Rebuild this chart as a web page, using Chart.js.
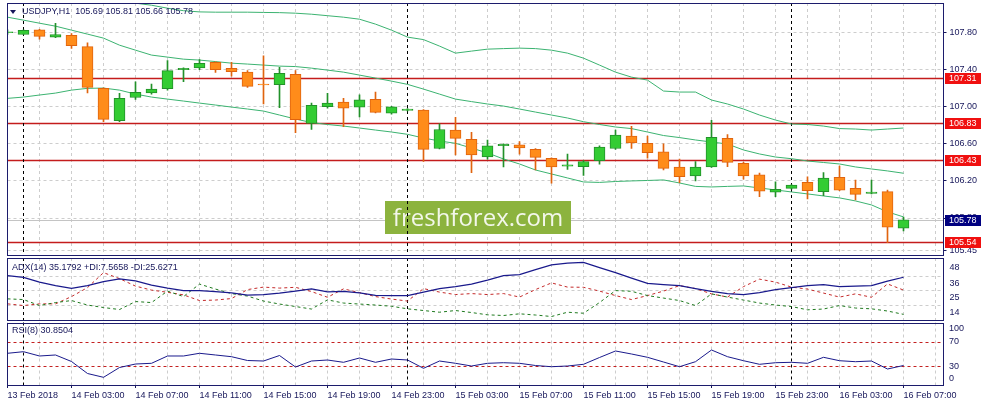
<!DOCTYPE html>
<html>
<head>
<meta charset="utf-8">
<script src="https://cdn.jsdelivr.net/npm/chart.js@4.4.1/dist/chart.umd.min.js"></script>
<style>
  html, body { margin: 0; padding: 0; background: #fff; }
  #wrap { position: relative; width: 981px; height: 405px; overflow: hidden; background: #fff; }
  #wrap canvas { position: absolute; left: 0; }
</style>
</head>
<body>
<div id="wrap">
  <canvas id="priceChart" width="981" height="257" style="top:0px"></canvas>
  <canvas id="adxChart" width="981" height="64" style="top:257px"></canvas>
  <canvas id="rsiChart" width="981" height="84" style="top:321px"></canvas>
</div>
<script>
// USDJPY H1, 13 Feb 23:00 .. 16 Feb 07:00 (one entry per bar)
const open = [107.80,107.78,107.83,107.75,107.77,107.65,107.20,106.85,107.10,107.15,107.195,107.40,107.42,107.48,107.415,107.375,107.245,107.24,107.35,106.82,107.00,107.05,106.995,107.08,106.93,106.96,106.965,106.55,106.75,106.65,106.46,106.58,106.59,106.54,106.445,106.36,106.355,106.42,106.55,106.685,106.605,106.515,106.35,106.255,106.35,106.66,106.39,106.265,106.08,106.12,106.185,106.085,106.24,106.12,106.065,106.085,105.69];
const high = [107.83,107.83,107.835,107.90,107.79,107.69,107.205,107.145,107.27,107.245,107.50,107.42,107.51,107.485,107.48,107.39,107.55,107.425,107.39,107.04,107.145,107.09,107.13,107.16,107.005,106.98,106.97,106.815,106.885,106.725,106.64,106.60,106.625,106.55,106.45,106.49,106.42,106.58,106.75,106.79,106.685,106.60,106.435,106.41,106.855,106.70,106.40,106.285,106.19,106.16,106.245,106.29,106.36,106.21,106.21,106.10,105.81];
const low = [107.78,107.78,107.73,107.745,107.63,107.15,106.84,106.84,107.08,107.135,107.18,107.27,107.40,107.37,107.33,107.21,107.03,106.99,106.72,106.755,106.985,106.785,106.89,106.935,106.92,106.955,106.41,106.545,106.48,106.29,106.435,106.35,106.49,106.32,106.175,106.325,106.26,106.38,106.54,106.55,106.445,106.32,106.18,106.20,106.345,106.355,106.22,106.03,106.03,106.11,106.005,106.04,106.095,105.995,106.06,105.535,105.66];
const close = [107.81,107.825,107.76,107.78,107.66,107.21,106.865,107.09,107.155,107.19,107.39,107.415,107.47,107.40,107.38,107.22,107.235,107.36,106.86,107.015,107.04,106.985,107.075,106.94,107.00,106.975,106.54,106.755,106.66,106.48,106.58,106.595,106.555,106.455,106.35,106.375,106.41,106.565,106.695,106.61,106.505,106.335,106.245,106.35,106.67,106.40,106.255,106.09,106.11,106.155,106.095,106.23,106.10,106.055,106.08,105.70,105.78];

// Bollinger bands
const bbUpper = [108.84,108.765,108.677,108.592,108.474,108.369,108.28,108.15,108.118,108.096,108.064,108.037,108.024,108.021,108.021,108.021,108.018,108.016,108.010,107.999,107.983,107.967,107.945,107.892,107.827,107.752,107.725,107.655,107.579,107.601,107.622,107.628,107.633,107.628,107.611,107.579,107.525,107.450,107.374,107.320,107.288,107.170,107.159,107.159,107.073,107.030,106.976,106.911,106.857,106.814,106.809,106.792,106.765,106.760,106.749,106.760,106.771];
const bbMiddle = [107.967,107.935,107.902,107.870,107.827,107.784,107.741,107.665,107.611,107.558,107.536,107.514,107.504,107.488,107.471,107.461,107.450,107.439,107.434,107.417,107.396,107.374,107.342,107.310,107.277,107.242,107.191,107.137,107.083,107.056,107.030,107.008,106.976,106.943,106.911,106.879,106.839,106.809,106.782,106.765,106.728,106.690,106.668,106.642,106.620,106.598,106.534,106.491,106.458,106.440,106.415,106.399,106.383,106.351,106.329,106.308,106.283];
const bbLower = [107.091,107.105,107.127,107.148,107.180,107.199,107.202,107.180,107.137,107.105,107.083,107.062,107.040,107.019,106.997,106.976,106.954,106.911,106.868,106.830,106.809,106.792,106.771,106.749,106.728,106.703,106.663,106.631,106.606,106.555,106.502,106.437,106.383,106.318,106.275,106.232,106.189,106.184,106.194,106.200,106.205,106.211,106.178,106.141,106.135,106.141,106.146,106.124,106.103,106.081,106.060,106.038,106.017,105.984,105.941,105.866,105.812];

// ADX(14)
const adx = [36.38,35.12,31.56,28.96,26.96,28.96,31.93,33.93,32.45,29.33,27.11,25.25,25.25,24.51,23.55,21.92,22.29,23.40,24.88,26.52,24.36,24.73,23.62,21.69,21.55,21.55,24.14,26.74,28.22,30.08,33.04,36.38,37.12,40.83,44.32,45.65,46.25,42.32,38.61,34.53,30.67,29.70,28.96,26.74,24.66,23.03,22.29,23.77,26.00,27.48,28.96,29.70,28.22,28.59,28.96,32.30,35.18];
const plusDI = [19.10,18.58,14.13,16.35,17.84,14.50,12.64,11.16,17.09,16.35,24.88,20.80,30.08,26.37,23.03,21.17,17.47,15.24,13.39,11.53,18.36,15.98,15.24,14.50,13.61,11.68,10.42,9.16,10.42,8.93,7.23,6.71,7.97,7.08,5.97,9.16,8.42,16.35,25.25,24.73,21.55,19.69,17.84,14.13,22.81,20.43,18.21,15.98,14.50,13.39,10.94,11.53,14.13,12.27,11.68,10.05,7.57];
const minusDI = [15.39,14.13,15.39,15.39,20.80,27.48,38.61,34.16,28.59,25.62,23.99,22.06,17.84,18.21,19.32,26.00,27.85,27.11,27.70,24.51,20.28,26.52,23.77,20.80,18.95,17.47,26.74,24.14,22.29,23.03,22.29,23.03,20.43,26.00,30.97,27.85,27.70,24.88,21.55,18.58,21.55,24.88,28.96,26.74,22.81,20.43,28.22,33.78,31.56,27.85,26.37,23.40,20.43,22.81,20.28,30.22,25.63];

// RSI(8)
const rsi = [50.95,53.58,46.50,48.15,37.45,17.69,11.44,27.57,33.33,34.48,46.50,46.50,50.95,48.15,45.35,39.09,38.27,47.32,28.39,38.27,39.92,36.13,43.21,36.13,41.56,39.92,26.25,38.27,34.48,30.04,34.48,35.47,34.48,30.86,28.89,30.04,32.84,44.03,54.73,49.79,44.36,36.62,28.89,37.12,56.38,45.35,38.76,32.84,35.47,36.13,34.48,44.36,38.76,37.12,38.27,25.10,30.85];

// axis labels / levels
const timeLabels = ['13 Feb 2018','14 Feb 03:00','14 Feb 07:00','14 Feb 11:00','14 Feb 15:00','14 Feb 19:00','14 Feb 23:00','15 Feb 03:00','15 Feb 07:00','15 Feb 11:00','15 Feb 15:00','15 Feb 19:00','15 Feb 23:00','16 Feb 03:00','16 Feb 07:00'];
const priceTicks = [105.45, 105.80, 106.20, 106.60, 107.00, 107.40, 107.80];
const levels = [107.31, 106.83, 106.43, 105.54];
const adxTicks = [14, 25, 36, 48];
const rsiTicks = [100, 70, 30, 0];
const rsiLevels = [70, 30];
const daySeparators = [1, 25, 49];

const INK = '#16165a';
const FRAME = '#1c1c6c';
const GRID = '#cdcdcd';
const BULL = '#33cc33', BULL_EDGE = '#22912a';
const BEAR = '#ff8c1a', BEAR_EDGE = '#e0640f';

Chart.defaults.font.family = '"Liberation Sans", Arial, sans-serif';
Chart.defaults.font.size = 9;
Chart.defaults.color = INK;

const idx = open.map((_, i) => i);
const bull = idx.map(i => close[i] >= open[i]);
const last = close.length - 1;

// keep the plot area exactly where the layout padding puts it
const noPad = s => { s.paddingTop = 0; s.paddingBottom = 0; s.paddingLeft = 0; s.paddingRight = 0; };

// shared x axis: one unit per hourly bar
const xAxis = withLabels => ({
    type: 'linear',
    min: 0,
    max: 58.5,
    offset: false,
    afterBuildTicks: scale => {
        const t = [];
        for (let v = 0; v <= 58; v += 2) t.push({ value: v });
        scale.ticks = t;
    },
    afterFit: scale => { scale.height = withLabels ? 20 : 0; noPad(scale); },
    border: { display: false, dash: [3, 3] },
    grid: {
        color: GRID,
        offset: false,
        drawTicks: withLabels,
        tickLength: 3,
        tickColor: ctx => (ctx.tick && ctx.tick.value % 4 === 0) ? INK : 'rgba(0,0,0,0)'
    },
    ticks: {
        display: withLabels,
        autoSkip: false,
        maxRotation: 0,
        minRotation: 0,
        align: 'start',
        padding: 2,
        color: INK,
        callback: v => (v % 4 === 0 ? timeLabels[v / 4] : '')
    }
});

const frame = {
    id: 'frame',
    afterDraw(chart) {
        const { ctx, chartArea: a } = chart;
        ctx.save();
        ctx.strokeStyle = FRAME;
        ctx.lineWidth = 1;
        ctx.strokeRect(Math.round(a.left) - 0.5, Math.round(a.top) + 0.5,
            Math.round(a.right - a.left), Math.round(a.bottom - a.top) - 1);
        ctx.restore();
    }
};

const daySep = {
    id: 'daySep',
    beforeDatasetsDraw(chart) {
        const { ctx, chartArea: a, scales: { x } } = chart;
        ctx.save();
        ctx.strokeStyle = '#000';
        ctx.lineWidth = 1;
        ctx.setLineDash([3, 3]);
        daySeparators.forEach(i => {
            const px = Math.floor(x.getPixelForValue(i)) + 0.5;
            ctx.beginPath();
            ctx.moveTo(px, a.top);
            ctx.lineTo(px, a.bottom);
            ctx.stroke();
        });
        ctx.restore();
    }
};

const title = {
    id: 'title',
    afterDraw(chart, args, opts) {
        const { ctx } = chart;
        ctx.save();
        ctx.font = '9px "Liberation Sans", Arial, sans-serif';
        ctx.fillStyle = INK;
        ctx.textBaseline = 'middle';
        ctx.fillText(opts.text, opts.x, opts.y);
        if (opts.arrow) {
            ctx.beginPath();
            ctx.moveTo(10, opts.y - 2);
            ctx.lineTo(16, opts.y - 2);
            ctx.lineTo(13, opts.y + 2);
            ctx.closePath();
            ctx.fill();
        }
        ctx.restore();
    }
};

const priceDecor = {
    id: 'priceDecor',
    beforeDatasetsDraw(chart) {
        const { ctx, chartArea: a, scales: { y } } = chart;
        ctx.save();
        // bid line
        const by = Math.round(y.getPixelForValue(close[last])) + 0.5;
        ctx.strokeStyle = '#c4c4c4';
        ctx.lineWidth = 1;
        ctx.beginPath(); ctx.moveTo(a.left, by); ctx.lineTo(a.right, by); ctx.stroke();
        // horizontal levels
        ctx.strokeStyle = '#c41c1c';
        ctx.lineWidth = 1.3;
        levels.forEach(v => {
            const py = Math.round(y.getPixelForValue(v)) + 0.5;
            ctx.beginPath(); ctx.moveTo(a.left, py); ctx.lineTo(a.right, py); ctx.stroke();
        });
        // watermark
        ctx.fillStyle = '#8cb33e';
        ctx.fillRect(385, 201, 186, 33);
        ctx.fillStyle = '#f3f7ea';
        ctx.font = '24px "Open Sans", sans-serif';
        ctx.textAlign = 'center';
        ctx.fillText('freshforex.com', 478, 226);
        ctx.restore();
    },
    afterDraw(chart) {
        const { ctx, chartArea: a, scales: { y } } = chart;
        ctx.save();
        ctx.font = '9px "Liberation Sans", Arial, sans-serif';
        ctx.textBaseline = 'middle';
        const box = (v, color) => {
            const py = Math.round(y.getPixelForValue(v));
            ctx.fillStyle = color;
            ctx.fillRect(a.right + 1.5, py - 5, 37, 11);
            ctx.fillStyle = '#fff';
            ctx.fillText(v.toFixed(2), a.right + 5.5, py + 0.5);
        };
        levels.forEach(v => box(v, '#f01010'));
        box(close[last], '#000080');
        ctx.restore();
    }
};

const rsiDecor = {
    id: 'rsiDecor',
    beforeDatasetsDraw(chart) {
        const { ctx, chartArea: a, scales: { y } } = chart;
        ctx.save();
        ctx.strokeStyle = '#c42020';
        ctx.lineWidth = 1;
        ctx.setLineDash([3, 3]);
        rsiLevels.forEach(v => {
            const py = Math.round(y.getPixelForValue(v)) + 0.5;
            ctx.beginPath(); ctx.moveTo(a.left, py); ctx.lineTo(a.right, py); ctx.stroke();
        });
        ctx.restore();
    },
    afterDraw(chart) {
        const { ctx, chartArea: a, scales: { y } } = chart;
        ctx.save();
        ctx.font = '9px "Liberation Sans", Arial, sans-serif';
        ctx.fillStyle = INK;
        ctx.textBaseline = 'middle';
        rsiTicks.forEach(v => {
            const py = Math.min(Math.max(y.getPixelForValue(v), a.top + 6.5), a.bottom - 6);
            ctx.fillText(String(v), a.right + 5.5, py);
        });
        ctx.restore();
    }
};

const baseOptions = {
    responsive: false,
    animation: false,
    devicePixelRatio: 1,
    events: [],
    plugins: { legend: { display: false }, tooltip: { enabled: false } }
};

const line = (data, color, extra) => Object.assign({
    type: 'line',
    data: idx.map(i => ({ x: i, y: data[i] })),
    borderColor: color,
    borderWidth: 1,
    pointRadius: 0,
    tension: 0,
    fill: false
}, extra);

// Price chart
new Chart(document.getElementById('priceChart'), {
    type: 'bar',
    data: {
        datasets: [
            {
                type: 'bar',
                data: idx.map(i => ({ x: i, y: [open[i], close[i]] })),
                backgroundColor: bull.map(b => (b ? BULL : BEAR)),
                borderColor: bull.map(b => (b ? BULL_EDGE : BEAR_EDGE)),
                borderWidth: 1,
                borderSkipped: false,
                barThickness: 11,
                grouped: false,
                order: 0
            },
            {
                type: 'bar',
                data: idx.map(i => ({ x: i, y: [low[i], high[i]] })),
                backgroundColor: bull.map(b => (b ? BULL_EDGE : BEAR_EDGE)),
                borderWidth: 0,
                barThickness: 1,
                grouped: false,
                order: 1
            },
            line(bbUpper, '#3cb371', { order: 2 }),
            line(bbMiddle, '#3cb371', { order: 2 }),
            line(bbLower, '#3cb371', { order: 2 })
        ]
    },
    options: {
        ...baseOptions,
        layout: { padding: { left: 7.5, top: 3, bottom: 1, right: 0 } },
        scales: {
            x: xAxis(false),
            y: {
                position: 'right',
                min: 105.39,
                max: 108.12,
                afterBuildTicks: s => { s.ticks = priceTicks.map(v => ({ value: v })); },
                afterFit: s => { s.width = 37.5; noPad(s); },
                border: { display: false, dash: [3, 3] },
                grid: { color: GRID, tickLength: 3, tickColor: INK },
                ticks: { color: INK, padding: 3, callback: v => v.toFixed(2) }
            }
        },
        plugins: {
            ...baseOptions.plugins,
            title: { text: 'USDJPY,H1  ' + [open[last], high[last], low[last], close[last]].map(v => v.toFixed(2)).join(' '), x: 22, y: 12, arrow: true }
        }
    },
    plugins: [priceDecor, daySep, frame, title]
});

// ADX chart
new Chart(document.getElementById('adxChart'), {
    type: 'line',
    data: {
        datasets: [
            line(adx, '#1a1a8c', { borderWidth: 1.2, order: 0 }),
            line(plusDI, '#1f7a1f', { borderDash: [3, 3], order: 1 }),
            line(minusDI, '#c42a2a', { borderDash: [3, 3], order: 1 })
        ]
    },
    options: {
        ...baseOptions,
        layout: { padding: { left: 7.5, top: 1, bottom: 0.5, right: 0 } },
        scales: {
            x: xAxis(false),
            y: {
                position: 'right',
                min: 3,
                max: 49.5,
                afterBuildTicks: s => { s.ticks = adxTicks.map(v => ({ value: v })); },
                afterFit: s => { s.width = 37.5; noPad(s); },
                border: { display: false, dash: [3, 3] },
                grid: {
                    color: ctx => (ctx.tick && ctx.tick.value >= 48 ? 'rgba(0,0,0,0)' : GRID),
                    tickLength: 3,
                    tickColor: 'rgba(0,0,0,0)'
                },
                ticks: { color: INK, padding: 3, labelOffset: 7 }
            }
        },
        plugins: {
            ...baseOptions.plugins,
            title: { text: 'ADX(14) 35.1792 +DI:7.5658 -DI:25.6271', x: 12, y: 10.5 }
        }
    },
    plugins: [daySep, frame, title]
});

// RSI chart
new Chart(document.getElementById('rsiChart'), {
    type: 'line',
    data: {
        datasets: [line(rsi, '#1a1a8c')]
    },
    options: {
        ...baseOptions,
        layout: { padding: { left: 7.5, top: 1.5, bottom: 0, right: 0 } },
        scales: {
            x: xAxis(true),
            y: {
                position: 'right',
                min: -1.2,
                max: 101.6,
                afterFit: s => { s.width = 37.5; noPad(s); },
                border: { display: false },
                grid: { display: false },
                ticks: { display: false }
            }
        },
        plugins: {
            ...baseOptions.plugins,
            title: { text: 'RSI(8) 30.8504', x: 12, y: 10 }
        }
    },
    plugins: [rsiDecor, daySep, frame, title]
});
</script>
</body>
</html>
